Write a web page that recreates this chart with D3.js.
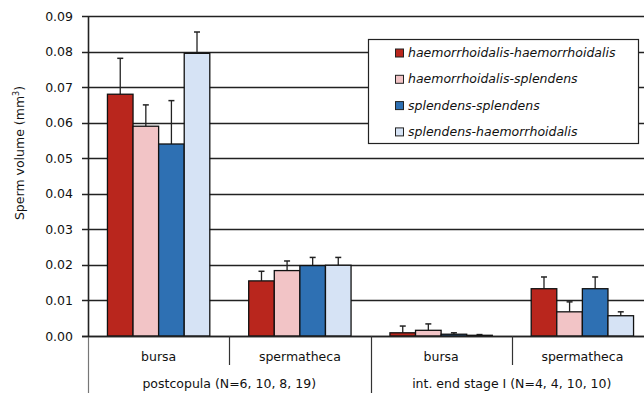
<!DOCTYPE html>
<head>
    <meta charset="utf-8">
    <script src="https://cdn.jsdelivr.net/npm/d3@7"></script>
    <style>
        *{
            margin:0;
            padding:0;
        }
        body{
            background: #fff;
            overflow: hidden;
        }
        text{
            font-family: 'DejaVu Sans', sans-serif;
            font-size: 12.5px;
            fill: #111;
        }
        .legend text{
            font-style: italic;
        }
    </style>
</head>

<body>
<svg id="chart"></svg>

<script>

    //data
    let groups = ["postcopula (N=6, 10, 8, 19)", "int. end stage I (N=4, 4, 10, 10)"];
    let organs = ["bursa", "spermatheca"];
    let series = ["haemorrhoidalis-haemorrhoidalis", "haemorrhoidalis-splendens", "splendens-splendens", "splendens-haemorrhoidalis"];
    let colors = ["#b9261d", "#f2c4c6", "#2e70b3", "#d6e3f5"];

    //one row per category (group x organ), values in series order
    let means = [
        [0.0680, 0.0590, 0.0540, 0.0795],
        [0.0155, 0.0184, 0.0198, 0.0199],
        [0.0009, 0.0016, 0.0005, 0.0002],
        [0.0133, 0.0068, 0.0133, 0.0057]
    ];
    let errors = [
        [0.0101, 0.0060, 0.0122, 0.0060],
        [0.0027, 0.0027, 0.0023, 0.0022],
        [0.0019, 0.0018, 0.0004, 0.0002],
        [0.0033, 0.0028, 0.0033, 0.0011]
    ];
    let yTicks = [0, 0.01, 0.02, 0.03, 0.04, 0.05, 0.06, 0.07, 0.08, 0.09];

    let width = 644, height = 393;
    let svg = d3.select("#chart").attr("width", width).attr("height", height);

    //plot area (right edge runs past the picture)
    let plotL = 88, plotR = 653, plotT = 16, plotB = 336;

    //categories
    let cats = [];
    groups.forEach((g, gi) => organs.forEach((o, oi) => cats.push({group: gi, organ: o, idx: gi * 2 + oi})));

    let x0 = d3.scaleBand().domain(cats.map(c => c.idx)).range([plotL, plotR]).paddingInner(0).paddingOuter(0);
    let x1 = d3.scaleBand().domain(series.map((s, i) => i)).range([0, x0.bandwidth()]).paddingInner(0).paddingOuter(0.76);
    let y = d3.scaleLinear().domain([0, 0.09]).range([plotB, plotT]);

    //gridlines
    svg.append("g")
        .selectAll("line")
        .data(yTicks)
        .enter()
        .append("line")
        .attr("x1", plotL - 6)
        .attr("x2", plotR)
        .attr("y1", d => Math.round(y(d)) + 0.5)
        .attr("y2", d => Math.round(y(d)) + 0.5)
        .attr("stroke", "#222")
        .attr("stroke-width", 1.4);

    //tick labels
    svg.append("g")
        .selectAll("text")
        .data(yTicks)
        .enter()
        .append("text")
        .attr("x", plotL - 15)
        .attr("y", d => y(d) + 4.5)
        .attr("text-anchor", "end")
        .text(d => d3.format(".2f")(d));

    //y axis line
    svg.append("line")
        .attr("x1", plotL + 0.5).attr("x2", plotL + 0.5)
        .attr("y1", plotT).attr("y2", plotB)
        .attr("stroke", "#222").attr("stroke-width", 1.6);
    svg.append("line")
        .attr("x1", plotL + 0.5).attr("x2", plotL + 0.5)
        .attr("y1", plotB).attr("y2", height)
        .attr("stroke", "#777").attr("stroke-width", 1.2);

    //bars
    let catG = svg.append("g")
        .selectAll("g")
        .data(cats)
        .enter()
        .append("g")
        .attr("transform", c => "translate(" + x0(c.idx) + ",0)");

    let barData = c => means[c.idx].map((v, i) => ({s: i, v: v, e: errors[c.idx][i]}));

    //error bars (drawn first so the bar covers the base)
    catG.selectAll("g.err")
        .data(barData)
        .enter()
        .append("g")
        .attr("class", "err")
        .each(function (d) {
            let g = d3.select(this);
            let cx = x1(d.s) + x1.bandwidth() / 2;
            g.append("line")
                .attr("x1", cx).attr("x2", cx)
                .attr("y1", y(d.v)).attr("y2", y(d.v + d.e))
                .attr("stroke", "#222").attr("stroke-width", 1.3);
            g.append("line")
                .attr("x1", cx - 3).attr("x2", cx + 3)
                .attr("y1", y(d.v + d.e)).attr("y2", y(d.v + d.e))
                .attr("stroke", "#222").attr("stroke-width", 1.5);
        });

    catG.selectAll("rect")
        .data(barData)
        .enter()
        .append("rect")
        .attr("x", d => x1(d.s))
        .attr("width", x1.bandwidth())
        .attr("y", d => y(d.v))
        .attr("height", d => plotB - y(d.v))
        .attr("fill", d => colors[d.s])
        .attr("stroke", "#111")
        .attr("stroke-width", 1.3);

    //baseline
    svg.append("line")
        .attr("x1", plotL - 6).attr("x2", plotR)
        .attr("y1", plotB + 0.5).attr("y2", plotB + 0.5)
        .attr("stroke", "#222").attr("stroke-width", 1.4);

    //category separators
    cats.slice(1).forEach(c => {
        let sx = Math.round(x0(c.idx)) + 0.5;
        svg.append("line")
            .attr("x1", sx).attr("x2", sx)
            .attr("y1", plotB)
            .attr("y2", c.idx % 2 == 0 ? height : 365)
            .attr("stroke", "#333").attr("stroke-width", 1.2);
    });

    //organ labels
    svg.append("g")
        .selectAll("text")
        .data(cats)
        .enter()
        .append("text")
        .attr("x", c => x0(c.idx) + x0.bandwidth() / 2)
        .attr("y", 361)
        .attr("text-anchor", "middle")
        .text(c => c.organ);

    //group labels
    svg.append("g")
        .selectAll("text")
        .data(groups)
        .enter()
        .append("text")
        .attr("x", (g, i) => (x0(i * 2) + x0(i * 2 + 1) + x0.bandwidth()) / 2)
        .attr("y", 388)
        .attr("text-anchor", "middle")
        .text(g => g);

    //y title
    let yt = svg.append("text")
        .attr("transform", "translate(24,153) rotate(-90)")
        .attr("text-anchor", "middle");
    yt.append("tspan").text("Sperm volume (mm");
    yt.append("tspan").attr("dy", -5).style("font-size", "8px").text("3");
    yt.append("tspan").attr("dy", 5).text(")");

    //legend
    let legend = svg.append("g").attr("class", "legend");
    legend.append("rect")
        .attr("x", 368.5).attr("y", 39.5)
        .attr("width", 270).attr("height", 104)
        .attr("fill", "#fff").attr("stroke", "#222").attr("stroke-width", 1.2);

    let items = legend.selectAll("g")
        .data(series)
        .enter()
        .append("g")
        .attr("transform", (d, i) => "translate(395," + (52.5 + i * 26.3) + ")");

    items.append("rect")
        .attr("x", 0.5).attr("y", -3.5)
        .attr("width", 8).attr("height", 8)
        .attr("fill", (d, i) => colors[i])
        .attr("stroke", "#222").attr("stroke-width", 1);

    items.append("text")
        .attr("x", 13)
        .attr("y", 4.5)
        .text(d => d);

</script>
</body>
